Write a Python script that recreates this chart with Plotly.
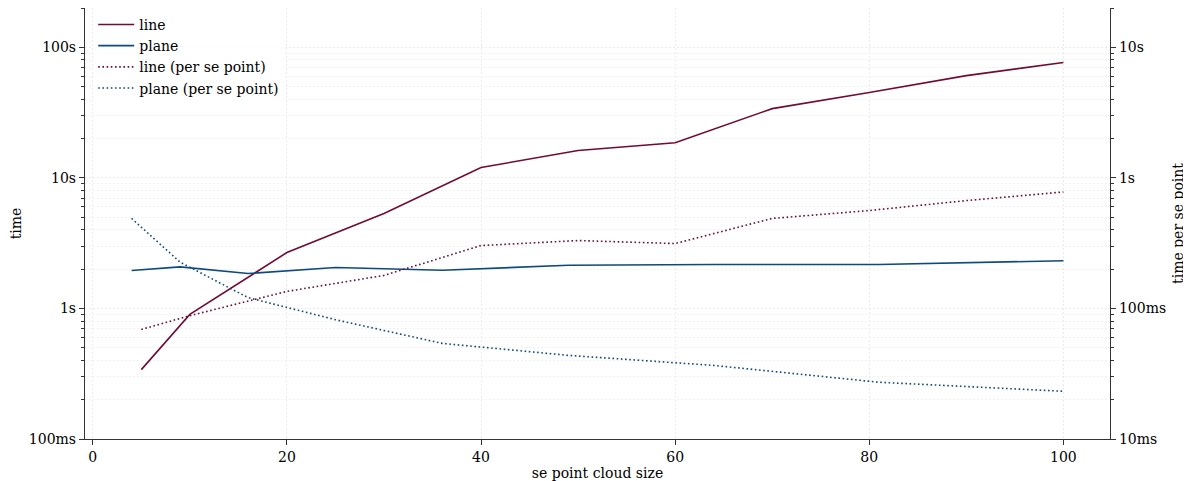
import plotly.graph_objects as go

# data
line_n = [5, 10, 20, 30, 40, 50, 60, 70, 80, 90, 100]
line_time = [0.34, 0.90, 2.68, 5.33, 12.0, 16.2, 18.6, 33.9, 45.0, 60.7, 76.5]
line_per_point = [0.069, 0.088, 0.135, 0.179, 0.303, 0.331, 0.314, 0.489, 0.562, 0.67, 0.78]

plane_n = [4, 9, 16, 25, 36, 49, 64, 81, 100]
plane_time = [1.95, 2.08, 1.85, 2.06, 1.96, 2.14, 2.17, 2.17, 2.32]
plane_per_point = [0.489, 0.226, 0.121, 0.082, 0.054, 0.0437, 0.0366, 0.0272, 0.0232]

left_tickvals = [0.1, 1, 10, 100]
left_ticktext = ["100ms", "1s", "10s", "100s"]
right_tickvals = [0.01, 0.1, 1, 10]
right_ticktext = ["10ms", "100ms", "1s", "10s"]
x_tickvals = [0, 20, 40, 60, 80, 100]

RED = "#720b33"
BLUE = "#0e4a7e"
FONT = "DejaVu Serif"
FS = 14
GRID = "#ebebeb"
MINORGRID = "#f1f1f1"
AX = "#333333"
DOT = "1.6px,2.6px"
GRIDDASH = "2px,2px"

def minor_vals(lo, hi):
    vals = []
    for e in range(lo, hi + 1):
        for m in range(2, 10):
            vals.append(m * 10.0 ** e)
    return vals

fig = go.Figure()
fig.add_trace(go.Scatter(x=line_n, y=line_time, name="line", mode="lines",
                         line=dict(color=RED, width=1.6)))
fig.add_trace(go.Scatter(x=plane_n, y=plane_time, name="plane", mode="lines",
                         line=dict(color=BLUE, width=1.6)))
fig.add_trace(go.Scatter(x=line_n, y=line_per_point, name="line (per se point)", mode="lines",
                         line=dict(color=RED, width=1.6, dash=DOT), yaxis="y2"))
fig.add_trace(go.Scatter(x=plane_n, y=plane_per_point, name="plane (per se point)", mode="lines",
                         line=dict(color=BLUE, width=1.6, dash=DOT), yaxis="y2"))

title_font = dict(family=FONT, size=FS, color="black")

# page body has an 8px margin, so the figure is sized/offset to compensate
fig.update_layout(
    width=1183, height=473,
    margin=dict(l=77, r=81, t=0, b=42),
    paper_bgcolor="white", plot_bgcolor="white",
    font=dict(family=FONT, size=FS, color="black"),
    showlegend=True,
    legend=dict(x=0.008, y=0.998, xanchor="left", yanchor="top",
                bgcolor="rgba(255,255,255,0.8)", font=dict(family=FONT, size=FS),
                tracegroupgap=0, itemwidth=36),
    xaxis=dict(range=[-0.8, 104.8], tickvals=x_tickvals, ticks="outside", ticklen=5,
               tickcolor=AX, showline=True, linecolor=AX, linewidth=1.3,
               showgrid=True, gridcolor=GRID, griddash=GRIDDASH, gridwidth=1,
               zeroline=False, mirror=False, automargin=False,
               title=dict(text="se point cloud size", standoff=5, font=title_font)),
    yaxis=dict(type="log", range=[-1, 2.301], tickvals=left_tickvals, ticktext=left_ticktext,
               ticks="outside", ticklen=5, tickcolor=AX, showline=True, linecolor=AX,
               linewidth=1.3, showgrid=True, gridcolor=GRID, griddash=GRIDDASH,
               zeroline=False, automargin=False,
               minor=dict(tickvals=minor_vals(-1, 2), ticks="outside", ticklen=3,
                          tickcolor=AX, showgrid=True, gridcolor=MINORGRID, griddash=GRIDDASH),
               title=dict(text="time", standoff=8, font=title_font)),
    yaxis2=dict(type="log", range=[-2, 1.301], overlaying="y", side="right",
                tickvals=right_tickvals, ticktext=right_ticktext,
                ticks="outside", ticklen=5, tickcolor=AX, showline=True, linecolor=AX,
                linewidth=1.3, showgrid=False, zeroline=False, automargin=False,
                minor=dict(tickvals=minor_vals(-2, 1), ticks="outside", ticklen=3,
                           tickcolor=AX, showgrid=False),
                title=dict(text="time per se point", standoff=8, font=title_font)),
)

fig.write_html("out.html")
